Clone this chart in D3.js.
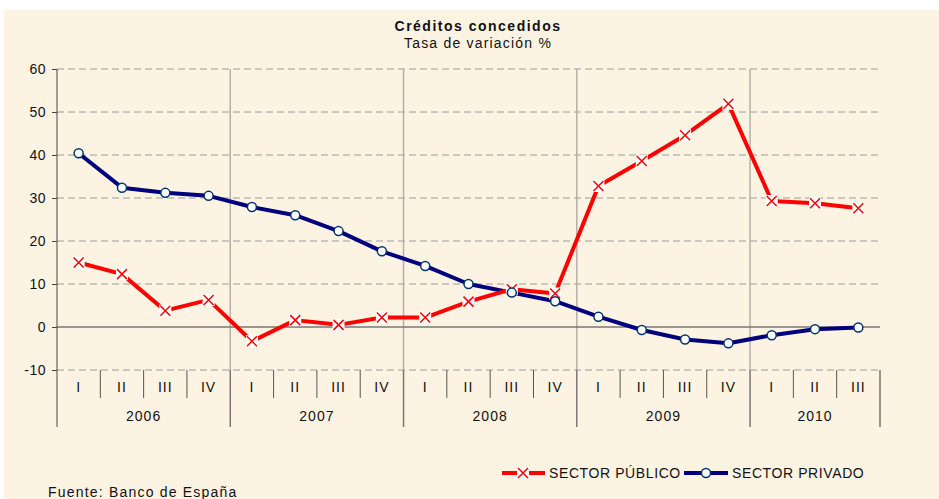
<!DOCTYPE html>
<html lang="es">
<head>
<meta charset="utf-8">
<title>Créditos concedidos</title>
<script src="https://d3js.org/d3.v7.min.js"></script>
<style>
  body { margin: 0; background: #fff; }
  svg text { font-family: "Liberation Sans", Arial, sans-serif; fill: #111; font-size: 14px; letter-spacing: 1px; }
</style>
</head>
<body>
<script>
// Data
var yearLabels = ["2006", "2007", "2008", "2009", "2010"];
var quartersPerYear = [4, 4, 4, 4, 3];
var quarterLabels = ["I","II","III","IV", "I","II","III","IV", "I","II","III","IV", "I","II","III","IV", "I","II","III"];
var sectorPublico = [15.0, 12.3, 3.8, 6.3, -3.3, 1.6, 0.5, 2.2, 2.2, 5.9, 8.8, 7.8, 32.8, 38.6, 44.6, 51.9, 29.3, 28.8, 27.6];
var sectorPrivado = [40.4, 32.4, 31.2, 30.5, 27.9, 26.0, 22.3, 17.6, 14.2, 10.0, 8.0, 6.0, 2.4, -0.7, -2.9, -3.8, -1.9, -0.5, -0.1];
var yTicks = [-10, 0, 10, 20, 30, 40, 50, 60];

var W = 939, H = 499;
var pLeft = 57, pRight = 880, pTop = 69, pBottom = 370;

var svg = d3.select("body").append("svg")
  .attr("width", W).attr("height", H);

svg.append("rect").attr("x", 4).attr("y", 10)
  .attr("width", W - 4).attr("height", H - 10)
  .attr("fill", "#fdf3e3");

var keys = quarterLabels.map(function(d, i) { return i; });
var x = d3.scaleBand().domain(keys).range([pLeft, pRight]);
var y = d3.scaleLinear().domain([-10, 60]).range([pBottom, pTop]);

// year boundaries (index of first quarter of each year)
var starts = [];
var acc = 0;
quartersPerYear.forEach(function(n) { starts.push(acc); acc += n; });

// horizontal grid
svg.append("g").selectAll("line")
  .data(yTicks.filter(function(d) { return d !== 0; }))
  .enter().append("line")
  .attr("x1", pLeft).attr("x2", pRight)
  .attr("y1", function(d) { return y(d); })
  .attr("y2", function(d) { return y(d); })
  .attr("stroke", "#9a9a9a").attr("stroke-width", 1)
  .attr("stroke-dasharray", "7,4");

// vertical year lines inside plot
svg.append("g").selectAll("line")
  .data(starts.slice(1))
  .enter().append("line")
  .attr("x1", function(d) { return x(d); })
  .attr("x2", function(d) { return x(d); })
  .attr("y1", pTop).attr("y2", pBottom)
  .attr("stroke", "#b4b0a8").attr("stroke-width", 1.5);

// zero line
svg.append("line")
  .attr("x1", pLeft).attr("x2", pRight)
  .attr("y1", y(0)).attr("y2", y(0))
  .attr("stroke", "#777").attr("stroke-width", 1.5);

// y axis
var yAxis = d3.axisLeft(y).tickValues(yTicks).tickSize(5).tickPadding(6)
  .tickFormat(function(d) { return String(d); });
var gy = svg.append("g").attr("transform", "translate(" + pLeft + ",0)").call(yAxis);
gy.select(".domain").remove();
gy.selectAll(".tick line").attr("stroke", "#444");
gy.selectAll(".tick text").attr("fill", "#111")
  .style("font-size", "14px").style("letter-spacing", "0.5px")
  .style("font-family", "'Liberation Sans', Arial, sans-serif");
svg.append("line").attr("x1", pLeft).attr("x2", pLeft)
  .attr("y1", pTop).attr("y2", 427).attr("stroke", "#444").attr("stroke-width", 1);

// category axis: quarter separators
svg.append("g").selectAll("line")
  .data(keys.slice(1).filter(function(i) { return starts.indexOf(i) < 0; }))
  .enter().append("line")
  .attr("x1", function(d) { return x(d); })
  .attr("x2", function(d) { return x(d); })
  .attr("y1", pBottom).attr("y2", 398)
  .attr("stroke", "#555").attr("stroke-width", 1);

// year separators
svg.append("g").selectAll("line")
  .data(starts.slice(1).concat([keys.length]))
  .enter().append("line")
  .attr("x1", function(d) { return d === keys.length ? pRight : x(d); })
  .attr("x2", function(d) { return d === keys.length ? pRight : x(d); })
  .attr("y1", pBottom).attr("y2", 427)
  .attr("stroke", "#777").attr("stroke-width", 1.5);

svg.append("g").selectAll("text")
  .data(quarterLabels)
  .enter().append("text")
  .attr("x", function(d, i) { return x(i) + x.bandwidth() / 2; })
  .attr("y", 392)
  .attr("text-anchor", "middle")
  .text(function(d) { return d; });

svg.append("g").selectAll("text")
  .data(yearLabels)
  .enter().append("text")
  .attr("x", function(d, i) {
    var a = x(starts[i]);
    var b = x(starts[i] + quartersPerYear[i] - 1) + x.bandwidth();
    return (a + b) / 2;
  })
  .attr("y", 421)
  .attr("text-anchor", "middle")
  .text(function(d) { return d; });

// lines
var line = d3.line()
  .x(function(d, i) { return x(i) + x.bandwidth() / 2; })
  .y(function(d) { return y(d); });

svg.append("path").datum(sectorPrivado).attr("d", line)
  .attr("fill", "none").attr("stroke", "#00007f").attr("stroke-width", 4)
  .attr("stroke-linejoin", "round");

svg.append("path").datum(sectorPublico).attr("d", line)
  .attr("fill", "none").attr("stroke", "#ff0000").attr("stroke-width", 4)
  .attr("stroke-linejoin", "round");

function drawCross(g, cx, cy) {
  g.append("rect").attr("x", cx - 6).attr("y", cy - 6)
    .attr("width", 12).attr("height", 12).attr("fill", "#fff");
  g.append("path")
    .attr("d", "M" + (cx - 5) + "," + (cy - 5) + "L" + (cx + 5) + "," + (cy + 5) +
               "M" + (cx + 5) + "," + (cy - 5) + "L" + (cx - 5) + "," + (cy + 5))
    .attr("stroke", "#ff0000").attr("stroke-width", 1.5).attr("fill", "none");
}

var gPub = svg.append("g");
sectorPublico.forEach(function(d, i) {
  drawCross(gPub, x(i) + x.bandwidth() / 2, y(d));
});

svg.append("g").selectAll("circle")
  .data(sectorPrivado)
  .enter().append("circle")
  .attr("cx", function(d, i) { return x(i) + x.bandwidth() / 2; })
  .attr("cy", function(d) { return y(d); })
  .attr("r", 4.5)
  .attr("fill", "#fff").attr("stroke", "#00336b").attr("stroke-width", 1.5);

// titles
svg.append("text").attr("x", 478).attr("y", 31).attr("text-anchor", "middle")
  .style("font-weight", "bold").style("letter-spacing", "1.5px")
  .text("Créditos concedidos");
svg.append("text").attr("x", 478).attr("y", 48).attr("text-anchor", "middle")
  .style("letter-spacing", "1.2px")
  .text("Tasa de variación %");

// legend
var ly = 473;
svg.append("line").attr("x1", 502).attr("x2", 545).attr("y1", ly).attr("y2", ly)
  .attr("stroke", "#ff0000").attr("stroke-width", 4);
drawCross(svg.append("g"), 523, ly);
svg.append("text").attr("x", 549).attr("y", ly + 5)
  .style("letter-spacing", "0.6px").text("SECTOR PÚBLICO");
svg.append("line").attr("x1", 684).attr("x2", 728).attr("y1", ly).attr("y2", ly)
  .attr("stroke", "#00007f").attr("stroke-width", 4);
svg.append("circle").attr("cx", 706).attr("cy", ly).attr("r", 4.5)
  .attr("fill", "#fff").attr("stroke", "#00336b").attr("stroke-width", 1.5);
svg.append("text").attr("x", 732).attr("y", ly + 5)
  .style("letter-spacing", "0.6px").text("SECTOR PRIVADO");

// source
svg.append("text").attr("x", 48).attr("y", 497)
  .style("letter-spacing", "1.2px")
  .text("Fuente:  Banco de España");
</script>
</body>
</html>
